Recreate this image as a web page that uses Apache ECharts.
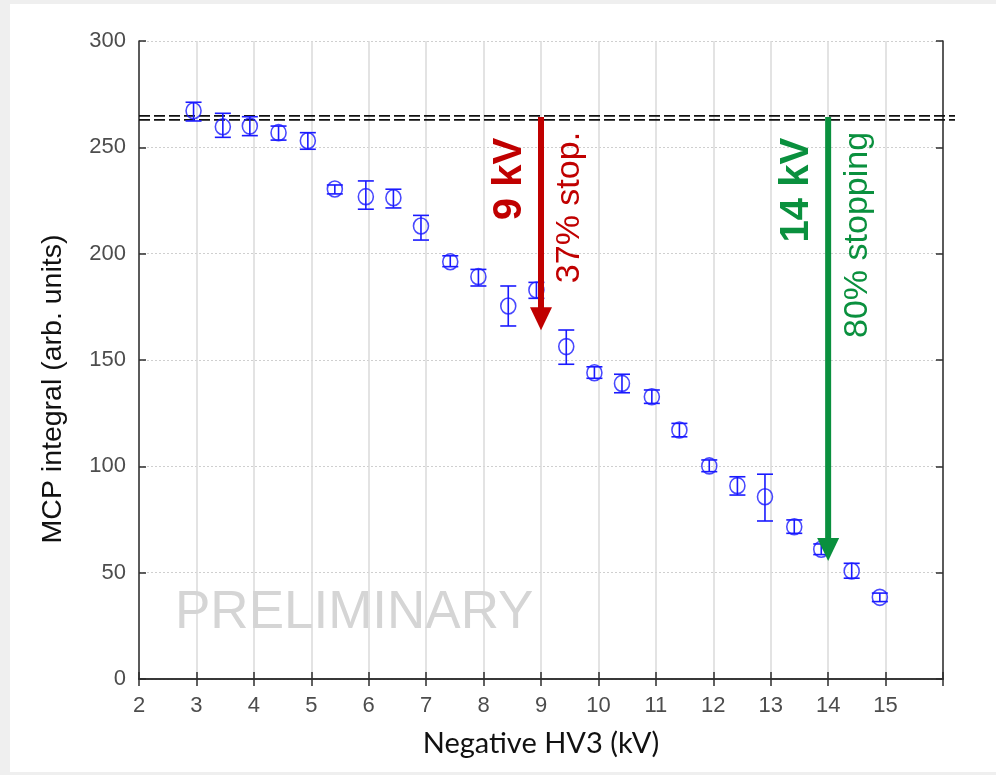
<!DOCTYPE html>
<html><head><meta charset="utf-8">
<script src="https://cdn.jsdelivr.net/npm/echarts@6/dist/echarts.min.js"></script>
<style>
html,body{margin:0;padding:0;background:#efefef;width:996px;height:775px;overflow:hidden;}
#panel{position:absolute;left:10px;top:4px;width:986px;height:768px;background:#fff;}
#chart{position:absolute;left:0;top:0;width:996px;height:775px;}
</style></head><body>
<div id="panel"></div><div id="chart"></div>
<script>
// ---- data ----
const xValues = [2.95, 3.46, 3.93, 4.43, 4.94, 5.41, 5.95, 6.43, 6.91, 7.42, 7.91, 8.43, 8.92,
                 9.44, 9.93, 10.41, 10.93, 11.41, 11.93, 12.42, 12.90, 13.41, 13.88, 14.41, 14.90];
const yValues = [267.2, 259.7, 260.0, 256.9, 253.1, 230.4, 226.8, 226.3, 213.0, 196.2, 189.2, 175.4, 182.9,
                 156.3, 144.0, 139.0, 132.7, 117.1, 100.2, 90.9, 85.7, 71.6, 61.0, 50.8, 38.4];
const yLow    = [262.4, 254.7, 255.5, 253.4, 249.1, 228.1, 220.9, 221.5, 206.4, 193.9, 184.8, 166.0, 179.0,
                 148.0, 141.4, 134.6, 129.6, 113.9, 97.5, 86.5, 74.3, 68.5, 58.5, 47.4, 36.4];
const yHigh   = [271.2, 266.0, 264.4, 260.0, 256.9, 232.3, 234.2, 230.3, 218.0, 199.0, 192.6, 184.8, 186.5,
                 164.1, 146.8, 143.3, 135.9, 120.2, 103.0, 95.1, 96.3, 74.8, 63.5, 54.4, 40.4];
const xMin = 2, xMax = 16, xStep = 1;
const yMin = 0, yMax = 300, yStep = 50;
const xTickLabels = ['2','3','4','5','6','7','8','9','10','11','12','13','14','15',''];
const refLines = [264.8, 262.9];
const arrowX = [9, 14];
const arrowTop = [264.3, 264.3];
const arrowTip = [164.0, 55.5];
const arrowLabels = ['9 kV', '14 kV'];
const arrowNotes = ['37% stop.', '80% stopping'];
const arrowColors = ['#c00000', '#0a903e'];
const xTitle = 'Negative HV3 (kV)';
const yTitle = 'MCP integral (arb. units)';
const watermark = 'PRELIMINARY';

const BLUE = '#1a1aff';
const axisFont = "'Liberation Sans', Arial, sans-serif";

const chart = echarts.init(document.getElementById('chart'), null, {renderer: 'canvas'});

const errData = xValues.map((x, i) => [x, yLow[i], yHigh[i]]);
const ptData = xValues.map((x, i) => [x, yValues[i]]);
const arrowData = arrowX.map((x, i) => [x, arrowTop[i], arrowTip[i], i]);

const axisLineStyle = {color: '#2e2e2e', width: 1.5};

const option = {
  animation: false,
  backgroundColor: 'transparent',
  grid: {left: 139, right: 53, top: 41, bottom: 96, containLabel: false},
  xAxis: [{
    type: 'value', min: xMin, max: xMax, interval: xStep, position: 'bottom',
    name: xTitle, nameLocation: 'middle', nameGap: 50,
    nameTextStyle: {fontFamily: "Lato, 'Open Sans', sans-serif", fontSize: 29, color: '#111'},
    axisLine: {show: true, lineStyle: axisLineStyle},
    axisTick: {show: true, inside: true, length: 7, lineStyle: axisLineStyle},
    axisLabel: {margin: 16, fontFamily: axisFont, fontSize: 22, color: '#4d4d4d',
      formatter: v => xTickLabels[Math.round((v - xMin) / xStep)] || ''},
    splitLine: {show: true, lineStyle: {color: '#dadada', width: 1.5, type: 'solid'}}
  }, {
    type: 'value', min: xMin, max: xMax, interval: xStep, position: 'top',
    axisLine: {show: true, lineStyle: axisLineStyle},
    axisTick: {show: true, inside: true, length: 7, lineStyle: axisLineStyle},
    axisLabel: {show: false}, splitLine: {show: false}
  }],
  yAxis: [{
    type: 'value', min: yMin, max: yMax, interval: yStep, position: 'left',
    name: yTitle, nameLocation: 'middle', nameGap: 71,
    nameTextStyle: {fontFamily: axisFont, fontSize: 28.5, color: '#111', padding: [0, 58, 0, 0]},
    axisLine: {show: true, lineStyle: axisLineStyle},
    axisTick: {show: true, inside: true, length: 7, lineStyle: axisLineStyle},
    axisLabel: {margin: 13, fontFamily: axisFont, fontSize: 22, color: '#4d4d4d'},
    splitLine: {show: true, lineStyle: {color: '#cfcfcf', width: 1, type: [2, 2]}}
  }, {
    type: 'value', min: yMin, max: yMax, interval: yStep, position: 'right',
    axisLine: {show: true, lineStyle: axisLineStyle},
    axisTick: {show: true, inside: true, length: 7, lineStyle: axisLineStyle},
    axisLabel: {show: false}, splitLine: {show: false}
  }],
  graphic: [{
    type: 'text', left: 175, top: 587, z: 1,
    style: {text: watermark, font: "53px 'Liberation Sans', Arial, sans-serif", fill: '#d5d5d5'}
  }],
  series: [{
    type: 'custom', name: 'ref', xAxisIndex: 0, yAxisIndex: 0, clip: false, z: 3,
    data: refLines.map(v => [xMin, v]),
    encode: {x: 0, y: 1},
    renderItem: (params, api) => {
      const v = api.value(1);
      const p1 = api.coord([xMin, v]);
      const p2 = api.coord([xMax, v]);
      return {type: 'line', shape: {x1: p1[0], y1: p1[1], x2: p2[0] + 12, y2: p2[1]},
        style: {stroke: '#111', lineWidth: 1.6, lineDash: [11, 4]}};
    }
  }, {
    type: 'custom', name: 'err', xAxisIndex: 0, yAxisIndex: 0, z: 4,
    data: errData, encode: {x: 0, y: [1, 2]},
    renderItem: (params, api) => {
      const x = api.value(0);
      const pLo = api.coord([x, api.value(1)]);
      const pHi = api.coord([x, api.value(2)]);
      const h = 8;
      const st = {stroke: BLUE, lineWidth: 1.6};
      return {type: 'group', children: [
        {type: 'line', shape: {x1: pHi[0], y1: pHi[1], x2: pLo[0], y2: pLo[1]}, style: st},
        {type: 'line', shape: {x1: pHi[0] - h, y1: pHi[1], x2: pHi[0] + h, y2: pHi[1]}, style: st},
        {type: 'line', shape: {x1: pLo[0] - h, y1: pLo[1], x2: pLo[0] + h, y2: pLo[1]}, style: st}
      ]};
    }
  }, {
    type: 'scatter', name: 'MCP', xAxisIndex: 0, yAxisIndex: 0, z: 5,
    data: ptData, symbol: 'circle', symbolSize: [15, 16],
    itemStyle: {color: 'rgba(0,0,0,0)', borderColor: BLUE, borderWidth: 1.6}
  }, {
    type: 'custom', name: 'arrows', xAxisIndex: 0, yAxisIndex: 0, clip: false, z: 8,
    data: arrowData, encode: {x: 0, y: [1, 2]},
    renderItem: (params, api) => {
      const i = api.value(3);
      const x = api.value(0);
      const pT = api.coord([x, api.value(1)]);
      const pB = api.coord([x, api.value(2)]);
      const col = arrowColors[i];
      const headH = 23, headW = 11, shaftW = 6;
      return {type: 'group', children: [
        {type: 'rect', shape: {x: pT[0] - shaftW / 2, y: pT[1], width: shaftW, height: pB[1] - pT[1] - headH + 1},
          style: {fill: col}},
        {type: 'polygon', shape: {points: [[pB[0] - headW, pB[1] - headH], [pB[0] + headW, pB[1] - headH], [pB[0], pB[1]]]},
          style: {fill: col}},
        {type: 'text', x: pT[0] - 31, y: pT[1] + 21, rotation: Math.PI / 2,
          style: {text: arrowLabels[i], font: "bold 40px 'Liberation Sans', Arial, sans-serif", fill: col,
            align: 'right', verticalAlign: 'middle'}},
        {type: 'text', x: pT[0] + 29, y: pT[1] + 15, rotation: Math.PI / 2,
          style: {text: arrowNotes[i], font: "34px 'Liberation Sans', Arial, sans-serif", fill: col,
            align: 'right', verticalAlign: 'middle'}}
      ]};
    }
  }]
};
chart.setOption(option);
</script>
</body></html>
